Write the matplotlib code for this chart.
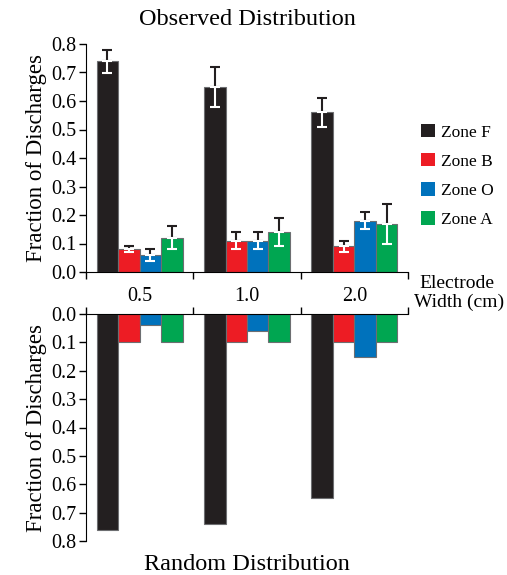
import matplotlib
matplotlib.use("Agg")
import matplotlib.pyplot as plt
import numpy as np
from matplotlib.patches import Rectangle

widths = ["0.5", "1.0", "2.0"]
zones = ["Zone F", "Zone B", "Zone O", "Zone A"]
colors = ["#231f20", "#ed1c24", "#0072bc", "#00a651"]

observed = {
    "Zone F": [0.74, 0.65, 0.56],
    "Zone B": [0.08, 0.11, 0.09],
    "Zone O": [0.06, 0.11, 0.18],
    "Zone A": [0.12, 0.14, 0.17],
}
observed_err = {
    "Zone F": [0.04, 0.07, 0.05],
    "Zone B": [0.01, 0.03, 0.02],
    "Zone O": [0.02, 0.03, 0.03],
    "Zone A": [0.04, 0.05, 0.07],
}
random_dist = {
    "Zone F": [0.76, 0.74, 0.65],
    "Zone B": [0.10, 0.10, 0.10],
    "Zone O": [0.04, 0.06, 0.15],
    "Zone A": [0.10, 0.10, 0.10],
}

plt.rcParams['font.family'] = ['Liberation Serif', 'DejaVu Serif']

fig = plt.figure(figsize=(5.07, 5.75), dpi=100)
L, R = 86/507, 408/507
ax1 = fig.add_axes([L, 1-272/575, R-L, (272-44)/575])
ax2 = fig.add_axes([L, 1-541/575, R-L, (541-314)/575])

x = np.arange(len(widths))
bw = 0.2
offsets = [-0.3, -0.1, 0.1, 0.3]
edge = "#6d6e71"

for i, z in enumerate(zones):
    xs = x + offsets[i]
    ax1.bar(xs, observed[z], bw, color=colors[i], edgecolor=edge, linewidth=0.8, zorder=2)
    ax1.errorbar(xs, observed[z], yerr=[np.zeros(3), observed_err[z]], fmt='none',
                 ecolor='#231f20', elinewidth=1.5, capsize=3.5, capthick=1.5, zorder=3)
    ax1.errorbar(xs, observed[z], yerr=[observed_err[z], np.zeros(3)], fmt='none',
                 ecolor='white', elinewidth=1.5, capsize=3.5, capthick=1.5, zorder=3)
    ax2.bar(xs, random_dist[z], bw, color=colors[i], edgecolor=edge, linewidth=0.8, zorder=2)

for ax in (ax1, ax2):
    ax.set_xlim(-0.5, 2.5)
    ax.set_ylim(0, 0.8)
    ax.set_yticks(np.arange(0, 0.81, 0.1))
    ax.set_yticklabels([f"{v:.1f}" for v in np.arange(0, 0.81, 0.1)], fontsize=14.5)
    ax.spines['right'].set_visible(False)
    ax.tick_params(axis='y', length=5, width=1, direction='out', pad=2)
    ax.set_ylabel("Fraction of Discharges", fontsize=16.5, labelpad=3)
    ax.set_xticks([-0.5, 0.5, 1.5, 2.5], minor=True)
    ax.set_xticks(x)

ax1.spines['top'].set_visible(False)
ax1.set_xticklabels(widths, fontsize=14.5)
ax1.tick_params(axis='x', which='major', length=0, pad=11)
ax1.tick_params(axis='x', which='minor', length=5, width=1, direction='out')
ax1.set_title("Observed Distribution", fontsize=17.5, pad=14)

ax2.invert_yaxis()
ax2.spines['bottom'].set_visible(False)
ax2.xaxis.tick_top()
ax2.set_xticklabels([])
ax2.tick_params(axis='x', which='major', length=0)
ax2.tick_params(axis='x', which='minor', length=5, width=1, direction='out', top=True, bottom=False)
ax2.set_xlabel("Random Distribution", fontsize=17.5, labelpad=9)

# legend
handles = [Rectangle((0, 0), 1, 1, facecolor=c, edgecolor='none') for c in colors]
fig.legend(handles, zones, loc='upper left', bbox_to_anchor=(414/507, 1-117/575),
           frameon=False, fontsize=12.5, handlelength=0.8, handleheight=0.8,
           labelspacing=0.72, handletextpad=0.35, borderaxespad=0)

fig.text(457/507, 1-283/575, "Electrode", ha='center', va='center', fontsize=14)
fig.text(459/507, 1-302/575, "Width (cm)", ha='center', va='center', fontsize=14)

fig.savefig("out.png", dpi=100)
